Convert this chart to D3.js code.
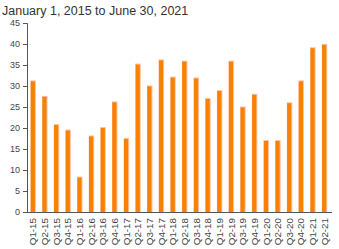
<!DOCTYPE html>
<html><head><meta charset="utf-8">
<script src="https://cdn.jsdelivr.net/npm/d3@7"></script>
<style>body{margin:0;background:#fff;}svg{display:block;font-family:Arial,"Liberation Sans",sans-serif;}</style>
</head><body>
<svg id="c" width="339" height="249"></svg>
<script>
const title = "January 1, 2015 to June 30, 2021";
const categories = ["Q1-15","Q2-15","Q3-15","Q4-15","Q1-16","Q2-16","Q3-16","Q4-16","Q1-17","Q2-17","Q3-17","Q4-17","Q1-18","Q2-18","Q3-18","Q4-18","Q1-19","Q2-19","Q3-19","Q4-19","Q1-20","Q2-20","Q3-20","Q4-20","Q1-21","Q2-21"];
const values = [31.1,27.4,20.7,19.4,8.2,18,20,26.1,17.4,35.1,29.9,36.1,32,35.8,31.8,26.9,28.8,35.8,24.9,27.9,16.9,16.9,25.9,31.1,39,39.8];
const yTicks = [0,5,10,15,20,25,30,35,40,45];

const svg = d3.select("#c");
const m = {l:27, r:9, t:23, b:37};
const W = 339, H = 249;
const x = d3.scaleBand().domain(categories).range([m.l, W - m.r]).paddingInner(0.64).paddingOuter(0.32);
const y = d3.scaleLinear().domain([0,45]).range([H - m.b, m.t]);

svg.append("text").attr("x",2).attr("y",15).attr("font-size",12.5).attr("fill","#333").text(title);

const g = svg.append("g");
g.selectAll("rect.bg").data(values).join("rect")
  .attr("x",(d,i)=>x(categories[i]) - 0.3)
  .attr("y",d=>y(d) - 1)
  .attr("width",x.bandwidth() + 1.3)
  .attr("height",d=>y(0)-y(d)+1)
  .attr("fill","#fbc3a6");
g.selectAll("rect.bar").data(values).join("rect")
  .attr("x",(d,i)=>x(categories[i]))
  .attr("y",d=>y(d))
  .attr("width",x.bandwidth())
  .attr("height",d=>y(0)-y(d))
  .attr("fill","#f88100");

const ya = svg.append("g").attr("transform",`translate(${m.l},0)`)
  .call(d3.axisLeft(y).tickValues(yTicks).tickSize(4).tickPadding(3));
ya.select(".domain").attr("stroke","#555");
ya.selectAll(".tick line").attr("stroke","#555");
ya.selectAll("text").attr("font-size",9).attr("fill","#444").attr("font-family","Arial, Liberation Sans, sans-serif");

const xa = svg.append("g").attr("transform",`translate(0,${y(0)})`)
  .call(d3.axisBottom(x).tickSize(0).tickSizeOuter(0));
xa.select(".domain").attr("stroke","#555").attr("d",`M${m.l},0.5H${W - m.r + 2}`);
xa.selectAll("text").attr("font-size",9.8).attr("fill","#444").attr("font-family","Arial, Liberation Sans, sans-serif")
  .attr("transform","rotate(-90)").attr("text-anchor","end").attr("dx",-6).attr("dy",3.6).attr("y",0).attr("x",0);
</script>
</body></html>
